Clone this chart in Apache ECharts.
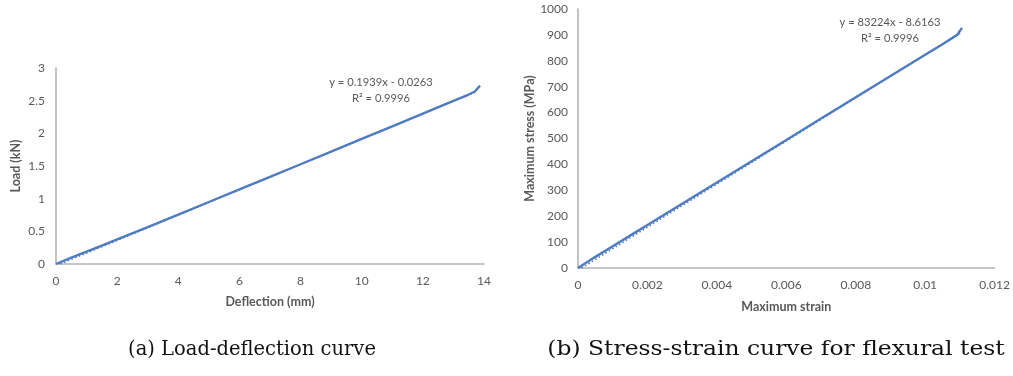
<!DOCTYPE html>
<html>
<head>
<meta charset="utf-8">
<script src="https://cdn.jsdelivr.net/npm/echarts@6/dist/echarts.min.js"></script>
<style>
  html, body { margin: 0; padding: 0; background: #fff; }
  #chart { width: 1013px; height: 376px; }
</style>
</head>
<body>
<div id="chart"></div>
<script>
// Load-deflection test record
const deflection = [0, 0.5, 1, 1.5, 2, 3, 4, 5, 6, 7, 8, 9, 10, 11, 12, 13, 13.5, 13.7, 13.72, 13.87];
const load       = [0, 0.098, 0.19, 0.283, 0.376, 0.566, 0.757, 0.949, 1.141, 1.334, 1.527, 1.72, 1.914, 2.108, 2.302, 2.496, 2.594, 2.64, 2.67, 2.73];
// Linear fit reported for the load-deflection data: slope, intercept, R²
const fitLoad = [0.1939, -0.0263, 0.9996];

// Flexural stress-strain record
const strain = [0, 0.0005, 0.001, 0.0015, 0.002, 0.003, 0.004, 0.005, 0.006, 0.007, 0.008, 0.009, 0.010, 0.0105, 0.01094, 0.01097, 0.01106];
const stress = [0, 43, 84, 125, 166, 248, 330, 412, 494, 577, 659, 741, 823, 864, 902, 910, 927];
// Linear fit reported for the stress-strain data: slope, intercept, R²
const fitStress = [83224, -8.6163, 0.9996];

const loadTicks = [0, 0.5, 1, 1.5, 2, 2.5, 3];
const deflTicks = [0, 2, 4, 6, 8, 10, 12, 14];
const strainTicks = [0, 0.002, 0.004, 0.006, 0.008, 0.01, 0.012];
const stressTicks = [0, 100, 200, 300, 400, 500, 600, 700, 800, 900, 1000];

const captions = ['(a) Load-deflection curve', '(b) Stress-strain curve for flexural test'];

const BLUE = '#4f7cc0';
const AXIS = '#b3b3b3';
const TXT = '#595959';
const FONT = 'Lato, "Liberation Sans", sans-serif';
const CAPFONT = '19.5px "DejaVu Serif", "Liberation Serif", serif';

function pairs(xs, ys) { return xs.map((x, i) => [x, ys[i]]); }
function fitEnds(fit, x0, x1) { return [[x0, fit[0] * x0 + fit[1]], [x1, fit[0] * x1 + fit[1]]]; }
function fitText(fit) { return ['y = ' + fit[0] + 'x - ' + Math.abs(fit[1]), 'R² = ' + fit[2]].join('\n'); }

function valueAxis(extra, margin) {
  return Object.assign({
    type: 'value',
    axisLine: { show: true, lineStyle: { color: AXIS, width: 1.6 } },
    axisTick: { show: false },
    splitLine: { show: false },
    axisLabel: { color: TXT, fontSize: 12, fontFamily: FONT, margin: margin, formatter: v => String(v) },
    nameLocation: 'middle',
    nameTextStyle: { color: TXT, fontSize: 12.5, fontWeight: 'bold', fontFamily: FONT }
  }, extra);
}

const chart = echarts.init(document.getElementById('chart'), null, { renderer: 'canvas' });

chart.setOption({
  animation: false,
  backgroundColor: '#ffffff',
  grid: [
    { left: 56, right: 529, top: 68, bottom: 112 },
    { left: 578, right: 16, top: 9, bottom: 108 }
  ],
  xAxis: [
    valueAxis({ gridIndex: 0, min: deflTicks[0], max: deflTicks[deflTicks.length - 1], interval: deflTicks[1] - deflTicks[0],
      name: 'Deflection (mm)', nameGap: 31 }, 11),
    valueAxis({ gridIndex: 1, min: strainTicks[0], max: strainTicks[strainTicks.length - 1], interval: strainTicks[1] - strainTicks[0],
      name: 'Maximum strain', nameGap: 32 }, 11)
  ],
  yAxis: [
    valueAxis({ gridIndex: 0, min: loadTicks[0], max: loadTicks[loadTicks.length - 1], interval: loadTicks[1] - loadTicks[0],
      name: 'Load (kN)', nameGap: 34 }, 11),
    valueAxis({ gridIndex: 1, min: stressTicks[0], max: stressTicks[stressTicks.length - 1], interval: stressTicks[1] - stressTicks[0],
      name: 'Maximum stress (MPa)', nameGap: 40 }, 10)
  ],
  series: [
    {
      type: 'line', xAxisIndex: 0, yAxisIndex: 0, silent: true,
      data: fitEnds(fitLoad, 0.14, 13.8), showSymbol: false, z: 1,
      lineStyle: { color: BLUE, width: 1.6, type: [1.5, 2.5] }
    },
    {
      type: 'line', xAxisIndex: 0, yAxisIndex: 0, silent: true,
      data: pairs(deflection, load), showSymbol: false, z: 2,
      lineStyle: { color: BLUE, width: 2.4 }
    },
    {
      type: 'line', xAxisIndex: 1, yAxisIndex: 1, silent: true,
      data: fitEnds(fitStress, 0.000105, 0.01106), showSymbol: false, z: 1,
      lineStyle: { color: BLUE, width: 1.6, type: [1.5, 2.5] }
    },
    {
      type: 'line', xAxisIndex: 1, yAxisIndex: 1, silent: true,
      data: pairs(strain, stress), showSymbol: false, z: 2,
      lineStyle: { color: BLUE, width: 2.4 }
    }
  ],
  graphic: [
    { type: 'text', x: 381, y: 74, style: { text: fitText(fitLoad), fill: TXT, font: '11.2px ' + FONT, textAlign: 'center', lineHeight: 16 } },
    { type: 'text', x: 890, y: 15, style: { text: fitText(fitStress), fill: TXT, font: '11.2px ' + FONT, textAlign: 'center', lineHeight: 15.5 } },
    { type: 'text', x: 252, y: 340, style: { text: captions[0], fill: '#111', font: CAPFONT, textAlign: 'center' } },
    { type: 'text', x: 776, y: 340, scaleX: 1.2, style: { text: captions[1], fill: '#111', font: CAPFONT, textAlign: 'center' } }
  ]
});
</script>
</body>
</html>
